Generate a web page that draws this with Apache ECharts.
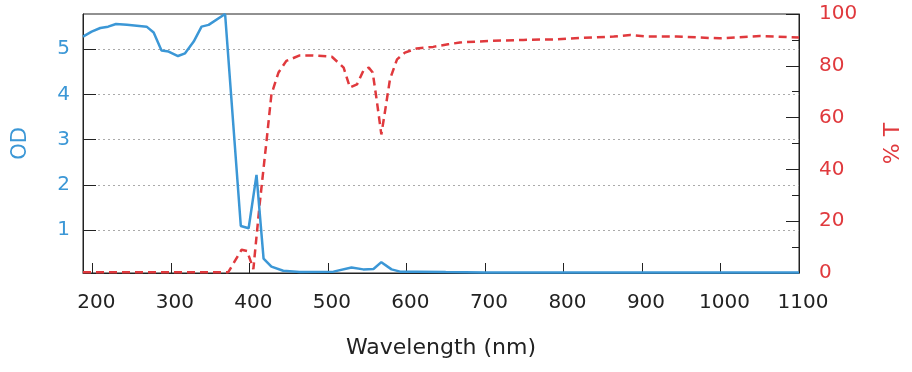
<!DOCTYPE html>
<html>
<head>
<meta charset="utf-8">
<script src="https://cdn.jsdelivr.net/npm/echarts@6/dist/echarts.min.js"></script>
<style>
html,body{margin:0;padding:0;background:#fff;}
#chart{width:912px;height:372px;}
</style>
</head>
<body>
<div id="chart"></div>
<script>
// Optical density (left axis)
var odWavelengths = [188, 199, 210, 220, 230, 244, 269, 278, 288, 297, 309, 318, 329, 339, 348, 369, 389, 399, 409, 418, 428, 443, 464, 507, 530, 545, 558, 568, 581, 592, 613, 650, 700, 800, 900, 1000, 1100];
var odValues = [5.28, 5.39, 5.47, 5.50, 5.56, 5.54, 5.50, 5.37, 4.97, 4.95, 4.85, 4.91, 5.17, 5.50, 5.54, 5.78, 1.09, 1.04, 2.22, 0.37, 0.19, 0.10, 0.07, 0.08, 0.17, 0.13, 0.14, 0.29, 0.13, 0.08, 0.08, 0.07, 0.06, 0.06, 0.06, 0.06, 0.06];
// Transmission % (right axis)
var tWavelengths = [188, 373, 390, 397, 405, 413, 422, 428, 437, 447, 464, 481, 505, 520, 528, 537, 545, 552, 557, 562, 568, 573, 579, 588, 598, 613, 634, 653, 668, 706, 749, 787, 825, 864, 885, 906, 944, 999, 1050, 1100];
var tValues = [0.3, 0.3, 9.0, 8.5, 1.5, 26.5, 51.6, 69, 77.4, 81.9, 84, 84, 83.5, 79.3, 71.6, 72.8, 78, 79.3, 77.4, 67, 53.5, 63, 74.8, 82.5, 85.1, 86.7, 87.3, 88.3, 89, 89.6, 90, 90.2, 90.8, 91.3, 91.9, 91.3, 91.3, 90.6, 91.5, 90.9];
// Axis ticks
var xTicks = [200, 300, 400, 500, 600, 700, 800, 900, 1000, 1100];
var odTicks = [1, 2, 3, 4, 5];
var tTicks = [0, 20, 40, 60, 80, 100];

var BLUE = '#3b97d6';
var RED = '#e0393d';
var FONT = 'DejaVu Sans';

function zip(xs, ys) { return xs.map(function (x, i) { return [x, ys[i]]; }); }

var chart = echarts.init(document.getElementById('chart'), null, { renderer: 'canvas' });
chart.setOption({
  animation: false,
  backgroundColor: '#fff',
  grid: { left: 83, right: 113, top: 14, bottom: 99, show: true, borderColor: '#222', borderWidth: 1, backgroundColor: 'transparent' },
  xAxis: {
    type: 'value', min: 188, max: 1100,
    name: 'Wavelength (nm)', nameLocation: 'middle', nameGap: 64,
    nameTextStyle: { fontFamily: FONT, fontSize: 22, color: '#222' },
    axisLine: { show: true, lineStyle: { color: '#222', width: 1 } },
    axisTick: { show: true, inside: true, length: 10, customValues: xTicks, lineStyle: { color: '#222' } },
    axisLabel: {
      customValues: xTicks, margin: 20, fontFamily: FONT, fontSize: 20, color: '#222',
      padding: [0, 0, 0, 8],
      formatter: function (v) { return String(v); }
    },
    splitLine: { show: false }
  },
  yAxis: [
    {
      type: 'value', position: 'left', min: 0.05, max: 5.78,
      name: 'OD', nameLocation: 'middle', nameGap: 52, nameRotate: 90,
      nameTextStyle: { fontFamily: FONT, fontSize: 21, color: BLUE },
      axisLine: { show: true, lineStyle: { color: '#222', width: 1 } },
      axisTick: { show: true, inside: true, length: 13, customValues: odTicks, lineStyle: { color: '#222' } },
      axisLabel: { customValues: odTicks, margin: 13, fontFamily: FONT, fontSize: 20, color: BLUE, padding: [6, 0, 0, 0] },
      splitLine: { show: true, lineStyle: { color: '#aaa', type: [2, 3], width: 1 } }
    },
    {
      type: 'value', position: 'right', min: 0, max: 100, interval: 20,
      name: '% T', nameLocation: 'middle', nameGap: 83, nameRotate: 90,
      nameTextStyle: { fontFamily: FONT, fontSize: 22, color: RED },
      axisLine: { show: true, lineStyle: { color: '#222', width: 1 } },
      axisTick: { show: true, inside: true, length: 13, lineStyle: { color: '#222' } },
      minorTick: { show: true, splitNumber: 2, length: 7, lineStyle: { color: '#222' } },
      axisLabel: { margin: 20, fontFamily: FONT, fontSize: 20, color: RED, padding: [4, 0, 0, 0] },
      splitLine: { show: false }
    }
  ],
  series: [
    {
      type: 'line', yAxisIndex: 0, data: zip(odWavelengths, odValues),
      showSymbol: false, symbol: 'none', smooth: false,
      lineStyle: { color: BLUE, width: 2.5 }, z: 3
    },
    {
      type: 'line', yAxisIndex: 1, data: zip(tWavelengths, tValues),
      showSymbol: false, symbol: 'none', smooth: false,
      lineStyle: { color: RED, width: 2.5, type: [8, 5] }, z: 2
    }
  ]
});
</script>
</body>
</html>
